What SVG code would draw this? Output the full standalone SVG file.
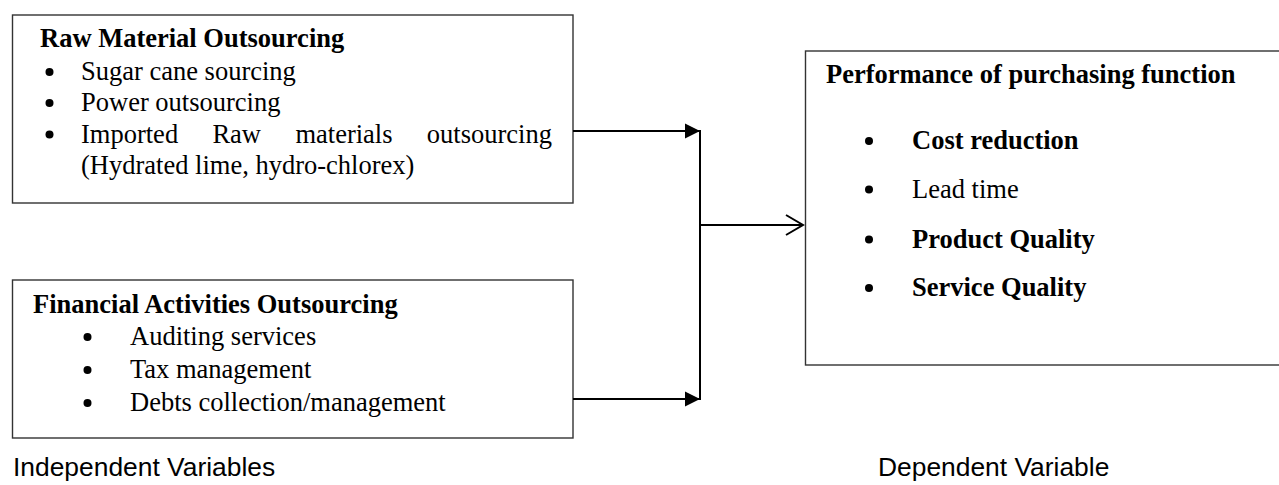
<svg xmlns="http://www.w3.org/2000/svg" width="1279" height="485" viewBox="0 0 1279 485">
<style>
.box{fill:#fff;stroke:#333;stroke-width:1.4}
.t{font-family:"Liberation Serif","Times New Roman",serif;font-size:26.5px;fill:#000}
.b{font-weight:bold}
.s{font-family:"Liberation Sans",Arial,sans-serif;font-size:26.4px;fill:#000}
.dot{fill:#000}
.ln{stroke:#000;stroke-width:2;fill:none}
</style>
<defs>
<marker id="tri" markerWidth="16" markerHeight="16" viewBox="0 0 16 16" refX="15" refY="8" orient="auto" markerUnits="userSpaceOnUse">
<path d="M0,0.5 L15,8 L0,15.5 Z" fill="#000"/>
</marker>
<marker id="open" markerWidth="22" markerHeight="24" viewBox="0 0 22 24" refX="19" refY="12" orient="auto" markerUnits="userSpaceOnUse">
<path d="M2,2 L19,12 L2,22" fill="none" stroke="#000" stroke-width="2"/>
</marker>
</defs>
<rect width="1279" height="485" fill="#fff"/>
<g id="raw">
<rect class="box" x="12.5" y="15" width="560.5" height="188"/>
<text class="t b" x="40" y="47">Raw Material Outsourcing</text>
<circle class="dot" cx="49.5" cy="72" r="4"/>
<text class="t" x="81" y="80">Sugar cane sourcing</text>
<circle class="dot" cx="49.5" cy="103" r="4"/>
<text class="t" x="81" y="111">Power outsourcing</text>
<circle class="dot" cx="49.5" cy="134.5" r="4"/>
<text class="t" y="142.5"><tspan x="81">Imported</tspan><tspan x="212.4">Raw</tspan><tspan x="295.4">materials</tspan><tspan x="426.8">outsourcing</tspan></text>
<text class="t" x="81" y="174">(Hydrated lime, hydro-chlorex)</text>
</g>
<g id="fin">
<rect class="box" x="12.5" y="280" width="560.5" height="158"/>
<text class="t b" x="33" y="313">Financial Activities Outsourcing</text>
<circle class="dot" cx="87.5" cy="337" r="4"/>
<text class="t" x="130" y="345">Auditing services</text>
<circle class="dot" cx="87.5" cy="370" r="4"/>
<text class="t" x="130" y="378">Tax management</text>
<circle class="dot" cx="87.5" cy="403" r="4"/>
<text class="t" x="130" y="411">Debts collection/management</text>
</g>
<g id="perf">
<rect class="box" x="805.5" y="51" width="480" height="314"/>
<text class="t b" x="826" y="83">Performance of purchasing function</text>
<circle class="dot" cx="869" cy="141" r="4"/>
<text class="t b" x="912" y="149">Cost reduction</text>
<circle class="dot" cx="869" cy="189.5" r="4"/>
<text class="t" x="912" y="197.5">Lead time</text>
<circle class="dot" cx="869" cy="239.5" r="4"/>
<text class="t b" x="912" y="247.5">Product Quality</text>
<circle class="dot" cx="869" cy="288" r="4"/>
<text class="t b" x="912" y="296">Service Quality</text>
</g>
<g id="labels">
<text class="s" x="13" y="476">Independent Variables</text>
<text class="s" x="878" y="476">Dependent Variable</text>
</g>
<g id="connectors">
<line class="ln" x1="573" y1="131" x2="700" y2="131" marker-end="url(#tri)"/>
<line class="ln" x1="573" y1="399" x2="700" y2="399" marker-end="url(#tri)"/>
<line class="ln" x1="700" y1="130" x2="700" y2="400"/>
<line class="ln" x1="700" y1="225" x2="803" y2="225" marker-end="url(#open)"/>
</g>
</svg>
